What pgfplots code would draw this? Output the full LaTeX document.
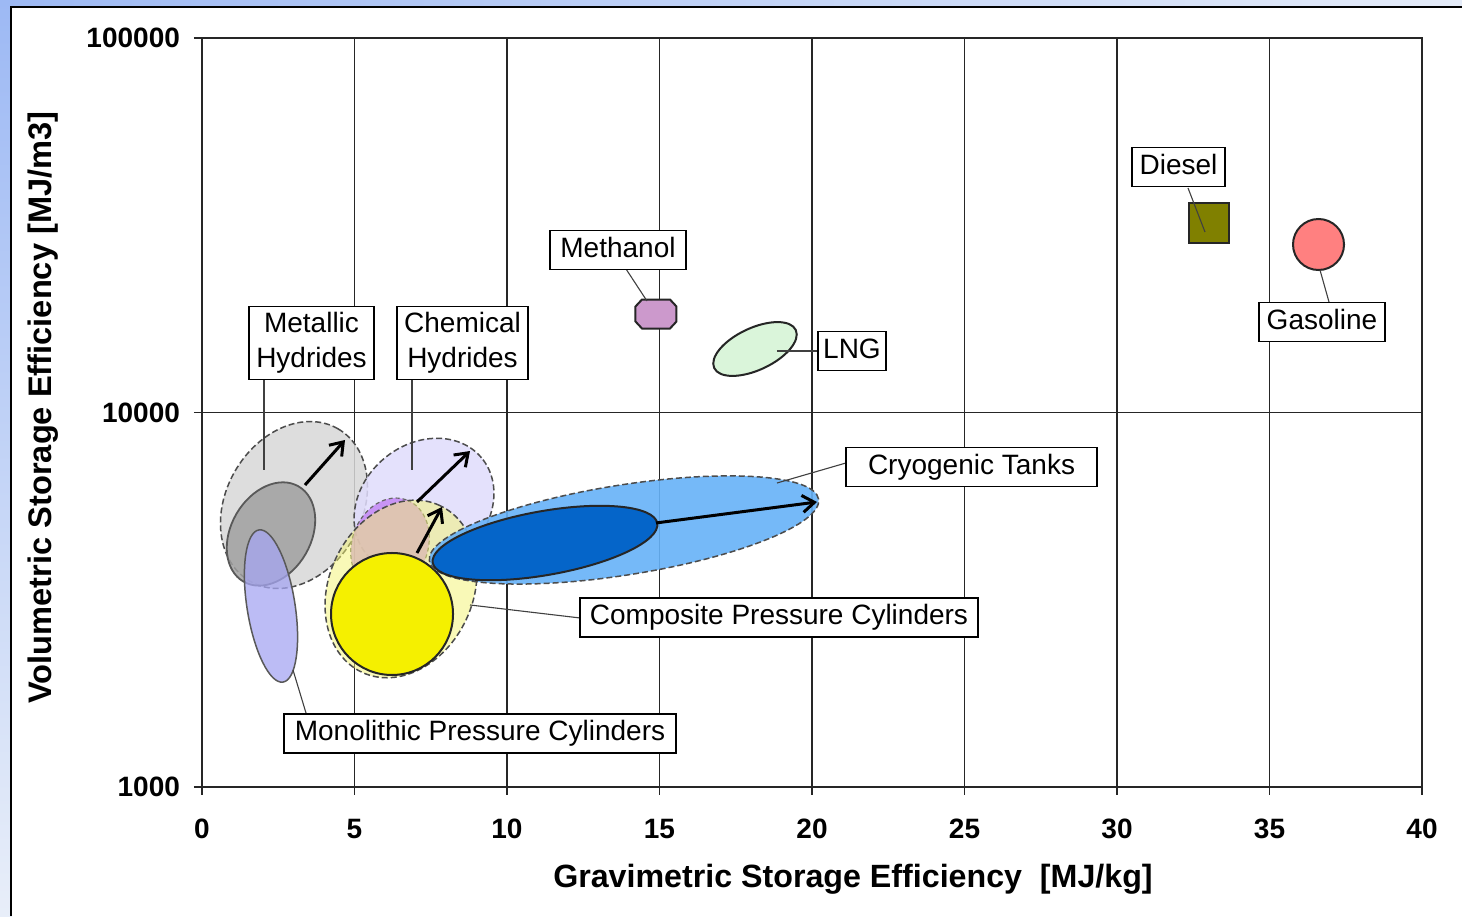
\documentclass[border=0pt]{standalone}
\usepackage{fontspec}
\setmainfont{Liberation Sans}
\usepackage{pgfplots}
\pgfplotsset{compat=1.18}
\usetikzlibrary{arrows.meta}

% page frame colours
\definecolor{bgA}{HTML}{9DB9F4}
\definecolor{bgB}{HTML}{E4EBF8}
\definecolor{bgC}{HTML}{E8EEF9}
% region colours
\definecolor{mhOut}{HTML}{D8D8D8}
\definecolor{mhIn}{HTML}{A0A0A0}
\definecolor{monoFill}{HTML}{A6A6F2}
\definecolor{chOut}{HTML}{E0DCFC}
\definecolor{chIn}{HTML}{C58CF5}
\definecolor{cpOut}{HTML}{F5F570}
\definecolor{cpIn}{HTML}{F5F000}
\definecolor{cryOut}{HTML}{66B2F8}
\definecolor{cryIn}{HTML}{0565C9}
\definecolor{lngFill}{HTML}{DAF5DA}
\definecolor{methFill}{HTML}{CC99CC}
\definecolor{dieselFill}{HTML}{808000}
\definecolor{gasFill}{HTML}{FF8080}

% flat octagon used for the methanol point
\pgfdeclareplotmark{octagon}{%
  \pgfpathmoveto{\pgfqpoint{-10.25pt}{3.75pt}}%
  \pgfpathlineto{\pgfqpoint{-7pt}{7.25pt}}%
  \pgfpathlineto{\pgfqpoint{7pt}{7.25pt}}%
  \pgfpathlineto{\pgfqpoint{10.25pt}{3.75pt}}%
  \pgfpathlineto{\pgfqpoint{10.25pt}{-3.75pt}}%
  \pgfpathlineto{\pgfqpoint{7pt}{-7.25pt}}%
  \pgfpathlineto{\pgfqpoint{-7pt}{-7.25pt}}%
  \pgfpathlineto{\pgfqpoint{-10.25pt}{-3.75pt}}%
  \pgfpathclose
  \pgfusepathqfillstroke}

\tikzset{
  lbl/.style={draw=black, line width=0.75pt, fill=white,
    font=\fontsize{14}{17.5}\selectfont, inner xsep=2pt, inner ysep=3pt,
    text height=10.5pt, text depth=3pt},
  lbltwo/.style={draw=black, line width=0.75pt, fill=white,
    font=\fontsize{14}{17.5}\selectfont, inner xsep=2pt, inner ysep=3pt,
    align=center},
  leader/.style={black!75, line width=0.55pt},
  growth/.style={black, line width=1.5pt, -{Straight Barb[length=6pt,width=8.5pt]}},
  dashedrim/.style={draw=black!70, line width=0.75pt, dash pattern=on 3pt off 1.5pt},
  solidrim/.style={draw=black!85, line width=1pt, solid},
}

\begin{document}
\begin{tikzpicture}
% slide background and white panel
\shade[left color=bgA, right color=bgB] (0,451pt) rectangle (731pt,458pt);
\shade[top color=bgA, bottom color=bgC] (0,0) rectangle (6pt,458pt);
\fill[white] (5.5pt,0) rectangle (731pt,454.5pt);
\draw[black, line width=1pt] (5.5pt,0) -- (5.5pt,454.5pt) -- (731pt,454.5pt);

\begin{axis}[
  scale only axis, width=610pt, height=374.5pt,
  at={(101pt,64.5pt)}, anchor=south west,
  xmin=0, xmax=40, ymin=1000, ymax=100000, ymode=log,
  xtick={0,5,...,40}, xticklabels={0,5,10,15,20,25,30,35,40},
  ytick={1000,10000,100000}, yticklabels={1000,10000,100000},
  yminorticks=false,
  grid=major, major grid style={black!85, line width=0.8pt},
  axis line style={black!85, line width=0.8pt},
  tick style={black!85, line width=0.8pt},
  tick align=outside, major tick length=4pt,
  xtick pos=bottom, ytick pos=left,
  ticklabel style={font=\fontsize{14}{16}\selectfont\bfseries},
  xticklabel style={yshift=-8.5pt},
  yticklabel style={xshift=-3.5pt},
  xlabel={Gravimetric Storage Efficiency\ \ [MJ/kg]},
  ylabel={Volumetric Storage Efficiency [MJ/m3]},
  xlabel style={at={(axis description cs:0.5336,-0.1235)}, anchor=center,
    font=\fontsize{16.1}{19}\selectfont\bfseries},
  ylabel style={at={(axis description cs:-0.1303,0.5067)}, anchor=center,
    font=\fontsize{16.3}{19}\selectfont\bfseries},
  clip=false, clip marker paths=true,
]

% ---- hydrogen storage regions (centre of each region) ----
% metallic hydrides, projected range
\addplot[only marks, mark=*, mark size=34pt,
  mark options={rotate=60, xscale=1.294, dashedrim, fill=mhOut, fill opacity=0.85}]
  coordinates {(3.016,5662)};
% chemical hydrides, projected range
\addplot[only marks, mark=*, mark size=31pt,
  mark options={rotate=40, xscale=1.21, dashedrim, fill=chOut, fill opacity=0.85}]
  coordinates {(7.279,5628)};
% metallic hydrides, current
\addplot[only marks, mark=*, mark size=20pt,
  mark options={rotate=60, xscale=1.375, draw=black!65, line width=0.9pt, solid, fill=mhIn, fill opacity=0.85}]
  coordinates {(2.262,4738)};
% monolithic pressure cylinders
\addplot[only marks, mark=*, mark size=12pt,
  mark options={rotate=99, xscale=3.21, draw=black!65, line width=0.75pt, solid, fill=monoFill, fill opacity=0.75}]
  coordinates {(2.262,3043)};
% chemical hydrides, current
\addplot[only marks, mark=*, mark size=19pt,
  mark options={rotate=70, xscale=1.263, draw=black!60, line width=0.6pt, dash pattern=on 2pt off 1.5pt, fill=chIn, fill opacity=0.9}]
  coordinates {(6.164,4428)};
% composite pressure cylinders, projected range
\addplot[only marks, mark=*, mark size=36pt,
  mark options={rotate=65, xscale=1.278, dashedrim, fill=cpOut, fill opacity=0.5}]
  coordinates {(6.525,3379)};
% composite pressure cylinders, current
\addplot[only marks, mark=*, mark size=30.5pt,
  mark options={solidrim, fill=cpIn}]
  coordinates {(6.230,2897)};
% cryogenic tanks, projected range
\addplot[only marks, mark=*, mark size=22.5pt,
  mark options={rotate=9, xscale=4.378, dashedrim, fill=cryOut, fill opacity=0.9}]
  coordinates {(13.836,4856)};
% cryogenic tanks, current
\addplot[only marks, mark=*, mark size=16pt,
  mark options={rotate=10, xscale=3.5625, solidrim, fill=cryIn}]
  coordinates {(11.246,4482)};
% LNG
\addplot[only marks, mark=*, mark size=10.5pt,
  mark options={rotate=25, xscale=2.143, solidrim, fill=lngFill}]
  coordinates {(18.131,14775)};

% ---- liquid fuels ----
\addplot[only marks, mark=octagon, mark options={solidrim, fill=methFill}]
  coordinates {(14.885,18323)};
\addplot[only marks, mark=square*, mark size=10pt, mark options={solidrim, fill=dieselFill}]
  coordinates {(33.016,32060)};
\addplot[only marks, mark=*, mark size=12.75pt, mark options={solidrim, fill=gasFill}]
  coordinates {(36.607,28090)};

% ---- expected improvement ----
\addplot[growth] coordinates {(3.377,6403) (4.689,8445)};
\addplot[growth] coordinates {(7.049,5768) (8.787,7891)};
\addplot[growth] coordinates {(7.049,4215) (7.869,5594)};
\addplot[growth] coordinates {(14.885,5070) (20.164,5768)};

% ---- leader lines ----
\addplot[leader] coordinates {(2.033,12211) (2.033,7022)};
\addplot[leader] coordinates {(6.885,12211) (6.885,7022)};
\addplot[leader] coordinates {(13.902,24163) (14.590,19850)};
\addplot[leader] coordinates {(18.852,14594) (20.197,14594)};
\addplot[leader] coordinates {(32.328,39770) (32.885,30340)};
\addplot[leader] coordinates {(36.656,24010) (36.951,19730)};
\addplot[leader] coordinates {(21.115,7332) (18.852,6482)};
\addplot[leader] coordinates {(12.393,2827) (8.787,3062)};
\addplot[leader] coordinates {(2.984,2053) (3.410,1576)};

% ---- labels ----
\node[lbltwo, minimum width=62.5pt] at (axis cs:3.590,15330) {Metallic\\Hydrides};
\node[lbltwo, minimum width=65.5pt] at (axis cs:8.541,15330) {Chemical\\Hydrides};
\node[lbl, minimum width=68pt] at (axis cs:13.639,27170) {Methanol};
\node[lbl, minimum width=34pt] at (axis cs:21.311,14594) {LNG};
\node[lbl, minimum width=46.5pt] at (axis cs:32.016,45240) {Diesel};
\node[lbl, minimum width=63pt] at (axis cs:36.721,17440) {Gasoline};
\node[lbl, minimum width=125.5pt] at (axis cs:25.23,7153) {Cryogenic Tanks};
\node[lbl, minimum width=199pt] at (axis cs:18.918,2836) {Composite Pressure Cylinders};
\node[lbl, minimum width=196pt] at (axis cs:9.115,1390) {Monolithic Pressure Cylinders};

\end{axis}
\pgfresetboundingbox
\useasboundingbox (0,0) rectangle (731pt,458pt);
\end{tikzpicture}
\end{document}
